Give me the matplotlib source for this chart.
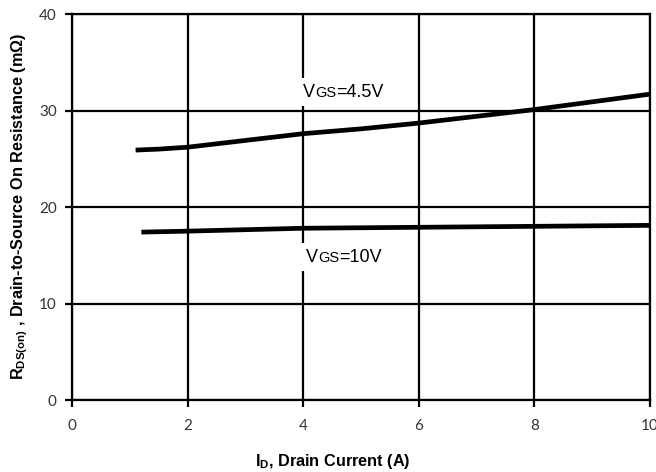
import matplotlib
matplotlib.use("Agg")
import matplotlib.pyplot as plt
from matplotlib.offsetbox import TextArea, HPacker, AnnotationBbox

plt.rcParams['mathtext.fontset'] = 'custom'
plt.rcParams['mathtext.rm'] = 'Liberation Sans:bold'
plt.rcParams['mathtext.it'] = 'Liberation Sans:bold'
plt.rcParams['mathtext.bf'] = 'Liberation Sans:bold'

# drain current (A) and on-resistance (mOhm) for both gate voltages
id_45 = [1.1, 1.5, 2.0, 3.0, 4.0, 5.0, 6.0, 7.0, 8.0, 9.0, 10.0]
rds_45 = [25.9, 26.0, 26.2, 26.9, 27.6, 28.1, 28.7, 29.4, 30.1, 30.9, 31.7]
id_10 = [1.2, 2.0, 4.0, 6.0, 8.0, 10.0]
rds_10 = [17.4, 17.5, 17.8, 17.9, 18.0, 18.1]

labels = [("4.5V", 4.0, 31.9), ("10V", 4.05, 14.8)]
xticks = [0, 2, 4, 6, 8, 10]
yticks = [0, 10, 20, 30, 40]

fig = plt.figure(figsize=(6.56, 4.72), dpi=100)
ax = fig.add_axes([0.1098, 0.1525, 0.8811, 0.8178])

ax.plot(id_45, rds_45, color='black', lw=3.4, solid_capstyle='butt', zorder=3)
ax.plot(id_10, rds_10, color='black', lw=3.4, solid_capstyle='butt', zorder=3)

ax.set_xlim(0, 10)
ax.set_ylim(0, 40)
ax.set_xticks(xticks)
ax.set_yticks(yticks)
ax.grid(True, color='black', lw=1.6)
for s in ax.spines.values():
    s.set_linewidth(1.6)
ax.tick_params(direction='out', length=5, width=1.6, labelsize=11)
ax.tick_params(axis='x', pad=9)
ax.tick_params(axis='y', pad=6)
for t in ax.get_xticklabels() + ax.get_yticklabels():
    t.set_family('Lato')
    t.set_color('#333333')

fig.text(0.5076, 0.0233, 'I$_{D}$, Drain Current (A)', family='Liberation Sans',
         weight='bold', fontsize=11.7, ha='center', va='center')
fig.text(0.0305, 0.5636,
         'R$_{DS(on)}$ , Drain-to-Source On Resistance (m\u03a9)',
         family='Liberation Sans', weight='bold', fontsize=11.7,
         rotation=90, ha='center', va='center')

# curve labels: V with a small-caps style "GS" on the same baseline
for val, x, y in labels:
    parts = [TextArea('V', textprops=dict(family='Liberation Sans', size=13)),
             TextArea('GS', textprops=dict(family='Liberation Sans', size=10.5)),
             TextArea('=' + val, textprops=dict(family='Liberation Sans', size=13))]
    box = HPacker(children=parts, align='baseline', pad=0, sep=0)
    ab = AnnotationBbox(box, (x, y), box_alignment=(0, 0.5), frameon=True,
                        pad=0.4, zorder=4,
                        bboxprops=dict(facecolor='white', edgecolor='none'))
    ax.add_artist(ab)

fig.savefig('out.png', dpi=100)
